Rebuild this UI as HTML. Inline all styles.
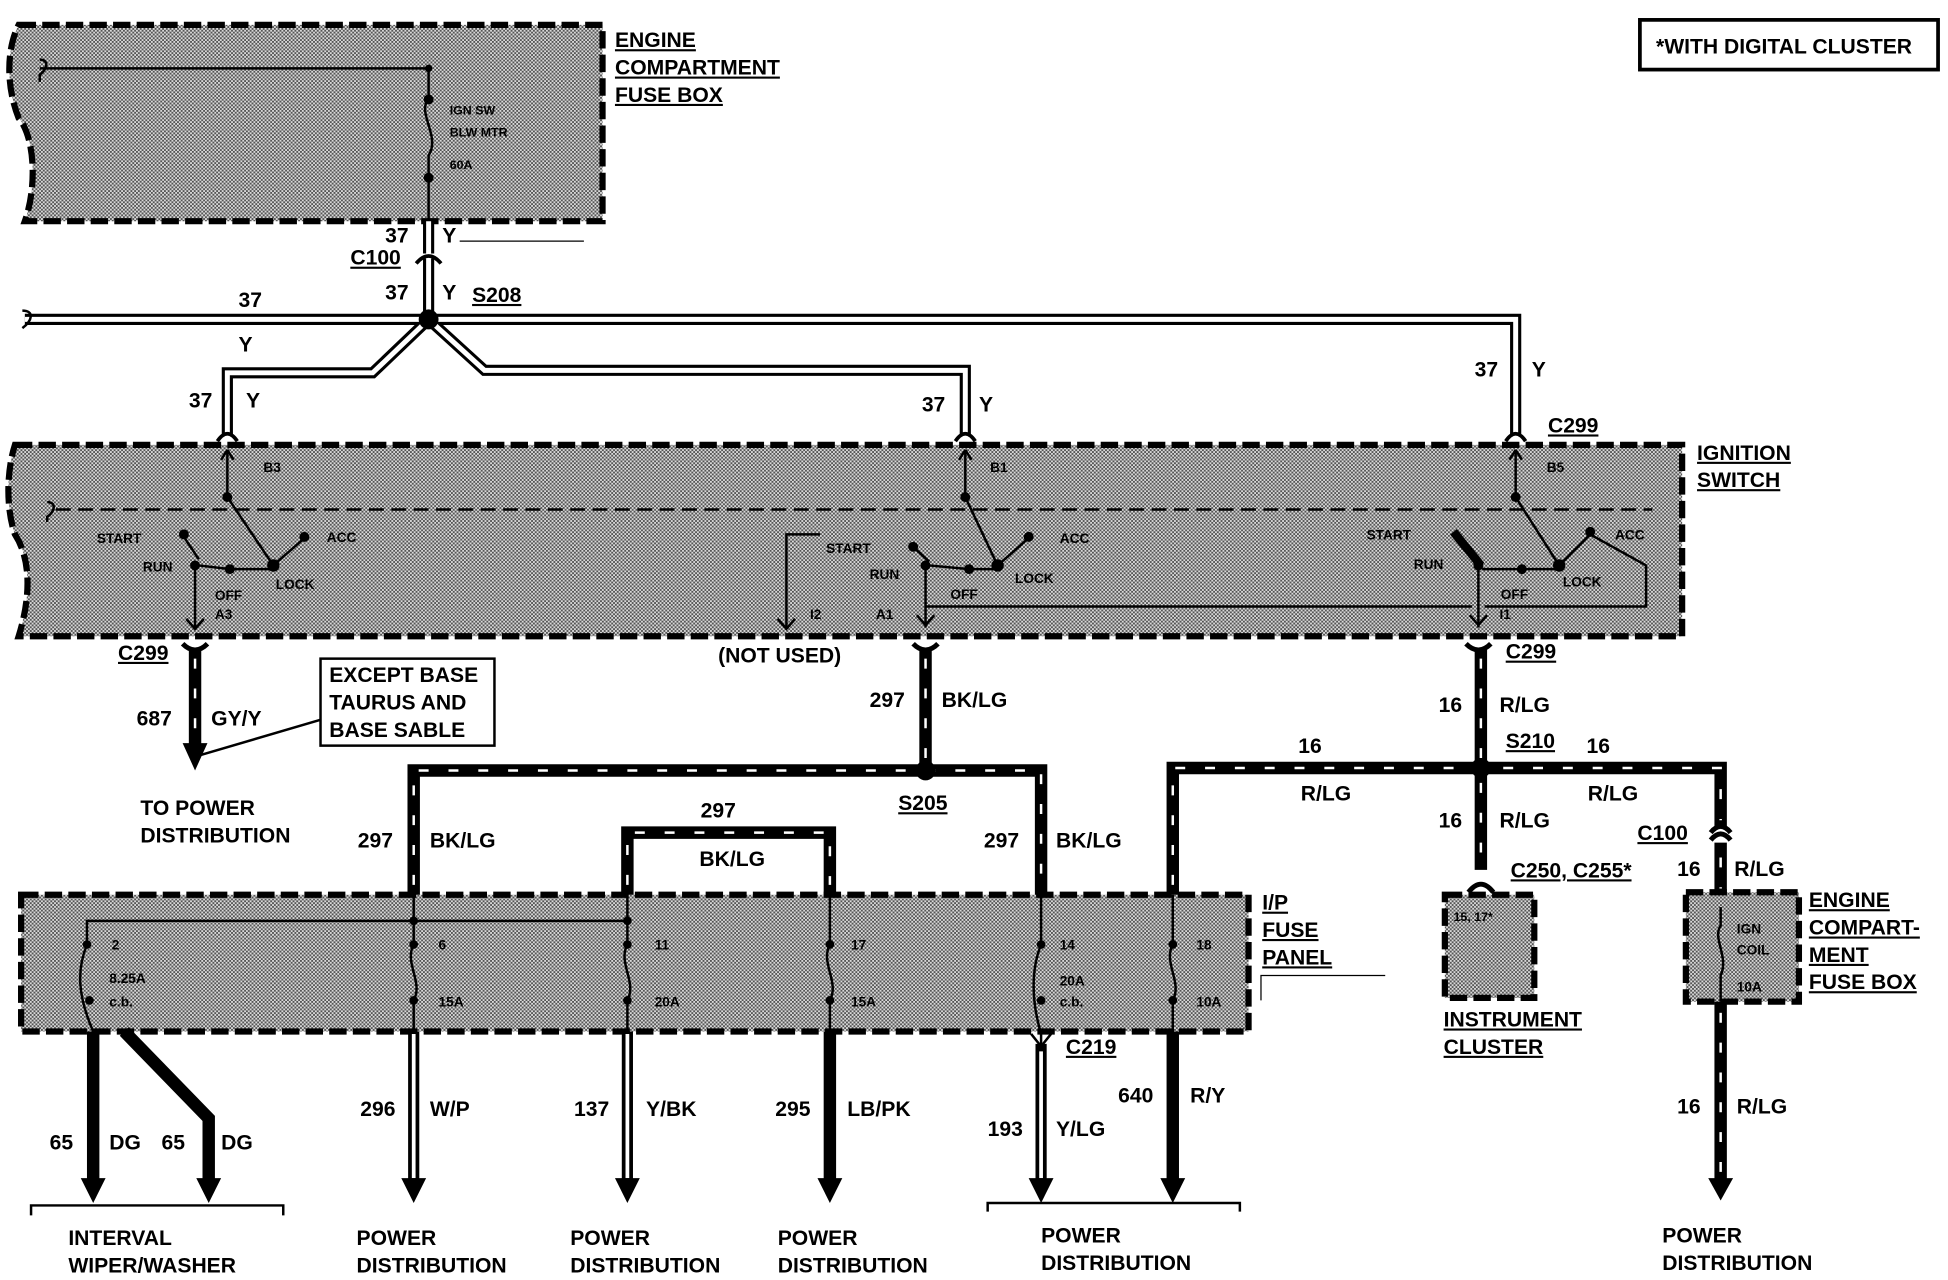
<!DOCTYPE html>
<html><head><meta charset="utf-8"><style>
html,body{margin:0;padding:0;background:#fff;}
svg{display:block}
text{font-family:"Liberation Sans",sans-serif;font-weight:bold;fill:#000}
.u{text-decoration:underline}
</style></head><body>
<svg width="1948" height="1280" viewBox="0 0 1568 1030" preserveAspectRatio="none" xmlns="http://www.w3.org/2000/svg">
<defs>
<pattern id="st" width="3" height="3" patternUnits="userSpaceOnUse">
<rect width="3" height="3" fill="#d8d8d8"/><rect width="1.5" height="1.5" fill="#555"/><rect x="1.5" y="1.5" width="1.5" height="1.5" fill="#555"/>
</pattern>
</defs>
<g stroke="#000" stroke-width="5" stroke-dasharray="14 5" fill="url(#st)">
<path d="M15,20 L485,20 L485,178 L20,178 C30,150 28,110 15,95 C5,70 5,40 15,20 Z"/>
<path d="M12,358 L1354,358 L1354,512 L15,512 C25,480 25,450 12,430 C5,410 5,380 12,358 Z"/>
<rect x="17" y="720" width="988" height="110"/>
<rect x="1163" y="720" width="72" height="83"/>
<rect x="1357" y="718" width="91" height="88"/>
</g>
<rect x="1320" y="16" width="240" height="40" fill="none" stroke="#000" stroke-width="3"/>
<text x="1333" y="43" font-size="17">*WITH DIGITAL CLUSTER</text>
<g stroke="#000" stroke-width="2" fill="none">
<path d="M32,55 L345,55 L345,80 C335,90 355,110 345,125 L345,178"/>
<path d="M32,48 C40,48 38,56 32,60 L32,66"/>
</g>
<circle cx="345" cy="55" r="3"/><circle cx="345" cy="80" r="4"/><circle cx="345" cy="143" r="4"/>
<text x="362" y="92" font-size="10">IGN SW</text><text x="362" y="110" font-size="10">BLW MTR</text><text x="362" y="136" font-size="10">60A</text>
<text x="495" y="38" font-size="17" class="u">ENGINE</text>
<text x="495" y="60" font-size="17" class="u">COMPARTMENT</text>
<text x="495" y="82" font-size="17" class="u">FUSE BOX</text>
<g fill="none" stroke-linejoin="miter">
<g stroke="#000" stroke-width="9">
<path d="M345,178 L345,257"/>
<path d="M20,257 L345,257"/>
<path d="M345,257 L300,300 L183,300 L183,350"/>
<path d="M345,257 L390,298 L777,298 L777,350"/>
<path d="M345,257 L1220,257 L1220,350"/>
</g>
<g stroke="#fff" stroke-width="4">
<path d="M345,178 L345,257"/>
<path d="M20,257 L345,257"/>
<path d="M345,257 L300,300 L183,300 L183,350"/>
<path d="M345,257 L390,298 L777,298 L777,350"/>
<path d="M345,257 L1220,257 L1220,350"/>
</g>
</g>
<rect x="333" y="204" width="24" height="4" fill="#fff"/>
<path d="M335,212 Q345,200 355,212" stroke="#000" stroke-width="3" fill="none"/>
<circle cx="345" cy="257" r="8"/>
<path d="M18,250 C28,250 26,258 18,264" stroke="#000" stroke-width="2" fill="none"/>
<text x="310" y="195" font-size="17">37</text><text x="356" y="195" font-size="17">Y</text>
<line x1="370" y1="194" x2="470" y2="194" stroke="#000" stroke-width="1"/>
<text x="282" y="213" font-size="17" class="u">C100</text>
<text x="310" y="241" font-size="17">37</text><text x="356" y="241" font-size="17">Y</text>
<text x="380" y="243" font-size="17" class="u">S208</text>
<text x="192" y="247" font-size="17">37</text><text x="192" y="283" font-size="17">Y</text>
<text x="152" y="328" font-size="17">37</text><text x="198" y="328" font-size="17">Y</text>
<text x="742" y="331" font-size="17">37</text><text x="788" y="331" font-size="17">Y</text>
<text x="1187" y="303" font-size="17">37</text><text x="1233" y="303" font-size="17">Y</text>
<text x="1246" y="348" font-size="17" class="u">C299</text>
<text x="1366" y="370" font-size="17" class="u">IGNITION</text>
<text x="1366" y="392" font-size="17" class="u">SWITCH</text>
<g stroke="#000" stroke-width="3" fill="none">
<path d="M175,355 Q183,343 191,355"/><path d="M769,355 Q777,343 785,355"/><path d="M1212,355 Q1220,343 1228,355"/>
</g>
<g stroke="#000" stroke-width="2" fill="none">
<line x1="45" y1="410" x2="1330" y2="410" stroke-dasharray="12 6"/>
<path d="M38,404 C46,404 44,412 38,416 L38,420"/>
<path d="M183,362 L183,400 L220,455"/><path d="M183,362 l-5,8 M183,362 l5,8"/>
<path d="M220,455 L245,433"/><path d="M148,432 L160,450"/><path d="M157,455 L157,505"/><path d="M150,498 l7,8 l7,-8"/>
<path d="M160,455 L185,458 L220,458"/>
<path d="M777,362 L777,400 L803,455"/><path d="M777,362 l-5,8 M777,362 l5,8"/>
<path d="M803,455 L828,433"/><path d="M735,440 L748,452"/><path d="M745,455 L745,505"/><path d="M738,495 l7,8 l7,-8"/>
<path d="M748,455 L780,458 L803,458"/>
<path d="M633,505 L633,430 L660,430"/><path d="M626,498 l7,8 l7,-8"/>
<path d="M745,488 L1185,488"/>
<path d="M1220,362 L1220,400 L1255,455"/><path d="M1220,362 l-5,8 M1220,362 l5,8"/>
<path d="M1255,455 L1280,430 L1325,455 L1325,488 L1195,488"/>
<path d="M1190,455 L1190,505"/><path d="M1183,495 l7,8 l7,-8"/><path d="M1193,458 L1225,458 L1255,458"/>
</g>
<path d="M1170,428 L1192,455" stroke="#000" stroke-width="7"/>
<g>
<circle cx="183" cy="400" r="4"/><circle cx="148" cy="430" r="4"/><circle cx="157" cy="455" r="4"/><circle cx="185" cy="458" r="4"/><circle cx="220" cy="455" r="5"/><circle cx="245" cy="432" r="4"/>
<circle cx="777" cy="400" r="4"/><circle cx="735" cy="440" r="4"/><circle cx="745" cy="455" r="4"/><circle cx="780" cy="458" r="4"/><circle cx="803" cy="455" r="5"/><circle cx="828" cy="432" r="4"/>
<circle cx="1220" cy="400" r="4"/><circle cx="1190" cy="455" r="4"/><circle cx="1225" cy="458" r="4"/><circle cx="1255" cy="455" r="5"/><circle cx="1280" cy="428" r="4"/>
</g>
<g font-size="11">
<text x="212" y="380">B3</text><text x="78" y="437">START</text><text x="115" y="460">RUN</text><text x="173" y="483">OFF</text><text x="173" y="498">A3</text><text x="222" y="474">LOCK</text><text x="263" y="436">ACC</text>
<text x="797" y="380">B1</text><text x="665" y="445">START</text><text x="700" y="466">RUN</text><text x="765" y="482">OFF</text><text x="705" y="498">A1</text><text x="652" y="498">I2</text><text x="817" y="469">LOCK</text><text x="853" y="437">ACC</text>
<text x="1245" y="380">B5</text><text x="1100" y="434">START</text><text x="1138" y="458">RUN</text><text x="1208" y="482">OFF</text><text x="1207" y="498">I1</text><text x="1258" y="472">LOCK</text><text x="1300" y="434">ACC</text>
</g>
<g stroke="#000" stroke-width="4" fill="none">
<path d="M147,518 Q157,528 167,518"/><path d="M735,518 Q745,528 755,518"/><path d="M1180,518 Q1190,528 1200,518"/>
</g>
<text x="95" y="531" font-size="17" class="u">C299</text>
<text x="578" y="533" font-size="17">(NOT USED)</text>
<text x="1212" y="530" font-size="17" class="u">C299</text>
<g fill="none">
<g stroke="#000" stroke-width="10">
<path d="M157,522 L157,600"/>
<path d="M745,522 L745,620"/>
<path d="M333,720 L333,620 L838,620 L838,720"/>
<path d="M505,720 L505,670 L668,670 L668,720"/>
<path d="M1192,522 L1192,700"/>
<path d="M944,720 L944,618 L1385,618 L1385,665"/>
<path d="M1385,678 L1385,720"/>
<path d="M1385,806 L1385,950"/>
<path d="M75,830 L75,950"/>
<path d="M100,830 L168,900 L168,950"/>
<path d="M668,830 L668,950"/>
<path d="M944,830 L944,950"/>
</g>
<g stroke="#fff" stroke-width="2" stroke-dasharray="8 16">
<path d="M157,530 L157,595"/>
<path d="M745,530 L745,612"/>
<path d="M333,712 L333,620 L838,620 L838,712"/>
<path d="M505,712 L505,670 L668,670 L668,712"/>
<path d="M1192,530 L1192,612 M1192,630 L1192,700"/>
<path d="M944,712 L944,618 L1385,618 L1385,660"/>
<path d="M1385,690 L1385,715"/>
<path d="M1385,815 L1385,945"/>
</g>
<g stroke="#000" stroke-width="9">
<path d="M333,830 L333,950"/><path d="M505,830 L505,950"/><path d="M838,840 L838,950"/>
</g>
<g stroke="#fff" stroke-width="3">
<path d="M333,832 L333,948"/><path d="M505,832 L505,948"/><path d="M838,846 L838,948"/>
</g>
</g>
<g>
<path d="M147,598 l10,22 l10,-22z"/>
<path d="M65,948 l10,20 l10,-20z"/><path d="M158,948 l10,20 l10,-20z"/><path d="M323,948 l10,20 l10,-20z"/><path d="M495,948 l10,20 l10,-20z"/><path d="M658,948 l10,20 l10,-20z"/><path d="M828,948 l10,20 l10,-20z"/><path d="M934,948 l10,20 l10,-20z"/><path d="M1375,948 l10,18 l10,-18z"/>
</g>
<path d="M1377,670 Q1385,660 1393,670 M1377,676 Q1385,666 1393,676" stroke="#000" stroke-width="4" fill="none"/>
<path d="M1182,718 Q1192,705 1202,718" stroke="#000" stroke-width="4" fill="none"/>
<circle cx="745" cy="620" r="8"/><circle cx="1192" cy="618" r="8"/>
<line x1="160" y1="608" x2="262" y2="578" stroke="#000" stroke-width="2"/>
<rect x="258" y="530" width="140" height="70" fill="#fff" stroke="#000" stroke-width="2"/>
<text x="265" y="549" font-size="17">EXCEPT BASE</text><text x="265" y="571" font-size="17">TAURUS AND</text><text x="265" y="593" font-size="17">BASE SABLE</text>
<text x="110" y="584" font-size="17">687</text><text x="170" y="584" font-size="17">GY/Y</text>
<text x="113" y="656" font-size="17">TO POWER</text><text x="113" y="678" font-size="17">DISTRIBUTION</text>
<text x="700" y="569" font-size="17">297</text><text x="758" y="569" font-size="17">BK/LG</text>
<text x="723" y="652" font-size="17" class="u">S205</text>
<text x="288" y="682" font-size="17">297</text><text x="346" y="682" font-size="17">BK/LG</text>
<text x="564" y="658" font-size="17">297</text><text x="563" y="697" font-size="17">BK/LG</text>
<text x="792" y="682" font-size="17">297</text><text x="850" y="682" font-size="17">BK/LG</text>
<text x="1045" y="606" font-size="17">16</text><text x="1047" y="644" font-size="17">R/LG</text>
<text x="1158" y="573" font-size="17">16</text><text x="1207" y="573" font-size="17">R/LG</text>
<text x="1212" y="602" font-size="17" class="u">S210</text><text x="1277" y="606" font-size="17">16</text><text x="1278" y="644" font-size="17">R/LG</text>
<text x="1158" y="666" font-size="17">16</text><text x="1207" y="666" font-size="17">R/LG</text>
<text x="1318" y="676" font-size="17" class="u">C100</text>
<text x="1350" y="705" font-size="17">16</text><text x="1396" y="705" font-size="17">R/LG</text>
<text x="1216" y="706" font-size="17" class="u">C250, C255*</text>
<text x="1170" y="741" font-size="10">15, 17*</text>
<text x="1162" y="826" font-size="17" class="u">INSTRUMENT</text><text x="1162" y="848" font-size="17" class="u">CLUSTER</text>
<g stroke="#000" stroke-width="2" fill="none"><path d="M1385,730 L1385,745 C1378,755 1392,770 1385,785 L1385,806"/></g>
<text x="1398" y="751" font-size="11">IGN</text><text x="1398" y="768" font-size="11">COIL</text><text x="1398" y="798" font-size="11">10A</text>
<text x="1456" y="730" font-size="17" class="u">ENGINE</text><text x="1456" y="752" font-size="17" class="u">COMPART-</text><text x="1456" y="774" font-size="17" class="u">MENT</text><text x="1456" y="796" font-size="17" class="u">FUSE BOX</text>
<g stroke="#000" stroke-width="2" fill="none">
<path d="M505,741 L70,741 L70,760 C62,780 62,800 75,830"/>
<path d="M333,720 L333,760 C325,775 341,790 333,805 L333,830"/>
<path d="M505,720 L505,760 C497,775 513,790 505,805 L505,830"/>
<path d="M668,720 L668,760 C660,775 676,790 668,805 L668,830"/>
<path d="M838,720 L838,760 C830,780 830,805 838,832 L838,842"/><path d="M830,832 l8,10 l8,-10"/>
<path d="M944,720 L944,760 C936,775 952,790 944,805 L944,830"/>
</g>
<g><circle cx="70" cy="760" r="3.5"/><circle cx="72" cy="805" r="3.5"/><circle cx="333" cy="741" r="3.5"/><circle cx="505" cy="741" r="3.5"/>
<circle cx="333" cy="760" r="3.5"/><circle cx="333" cy="805" r="3.5"/><circle cx="505" cy="760" r="3.5"/><circle cx="505" cy="805" r="3.5"/><circle cx="668" cy="760" r="3.5"/><circle cx="668" cy="805" r="3.5"/><circle cx="838" cy="760" r="3.5"/><circle cx="838" cy="805" r="3.5"/><circle cx="944" cy="760" r="3.5"/><circle cx="944" cy="805" r="3.5"/></g>
<g font-size="11">
<text x="90" y="764">2</text><text x="88" y="791">8.25A</text><text x="88" y="810">c.b.</text>
<text x="353" y="764">6</text><text x="353" y="810">15A</text>
<text x="527" y="764">11</text><text x="527" y="810">20A</text>
<text x="685" y="764">17</text><text x="685" y="810">15A</text>
<text x="853" y="764">14</text><text x="853" y="793">20A</text><text x="853" y="810">c.b.</text>
<text x="963" y="764">18</text><text x="963" y="810">10A</text>
</g>
<text x="1016" y="732" font-size="17" class="u">I/P</text><text x="1016" y="754" font-size="17" class="u">FUSE</text><text x="1016" y="776" font-size="17" class="u">PANEL</text>
<path d="M1015,805 L1015,785 L1115,785" stroke="#000" stroke-width="1" fill="none"/>
<text x="858" y="848" font-size="17" class="u">C219</text>
<text x="40" y="925" font-size="17">65</text><text x="88" y="925" font-size="17">DG</text><text x="130" y="925" font-size="17">65</text><text x="178" y="925" font-size="17">DG</text>
<text x="290" y="898" font-size="17">296</text><text x="346" y="898" font-size="17">W/P</text>
<text x="462" y="898" font-size="17">137</text><text x="520" y="898" font-size="17">Y/BK</text>
<text x="624" y="898" font-size="17">295</text><text x="682" y="898" font-size="17">LB/PK</text>
<text x="795" y="914" font-size="17">193</text><text x="850" y="914" font-size="17">Y/LG</text>
<text x="900" y="887" font-size="17">640</text><text x="958" y="887" font-size="17">R/Y</text>
<text x="1350" y="896" font-size="17">16</text><text x="1398" y="896" font-size="17">R/LG</text>
<g stroke="#000" stroke-width="2" fill="none">
<path d="M25,978 L25,970 L228,970 L228,978"/>
<path d="M795,975 L795,968 L998,968 L998,975"/>
</g>
<text x="55" y="1002" font-size="17">INTERVAL</text><text x="55" y="1024" font-size="17">WIPER/WASHER</text>
<text x="287" y="1002" font-size="17">POWER</text><text x="287" y="1024" font-size="17">DISTRIBUTION</text>
<text x="459" y="1002" font-size="17">POWER</text><text x="459" y="1024" font-size="17">DISTRIBUTION</text>
<text x="626" y="1002" font-size="17">POWER</text><text x="626" y="1024" font-size="17">DISTRIBUTION</text>
<text x="838" y="1000" font-size="17">POWER</text><text x="838" y="1022" font-size="17">DISTRIBUTION</text>
<text x="1338" y="1000" font-size="17">POWER</text><text x="1338" y="1022" font-size="17">DISTRIBUTION</text>
</svg>
</body></html>
